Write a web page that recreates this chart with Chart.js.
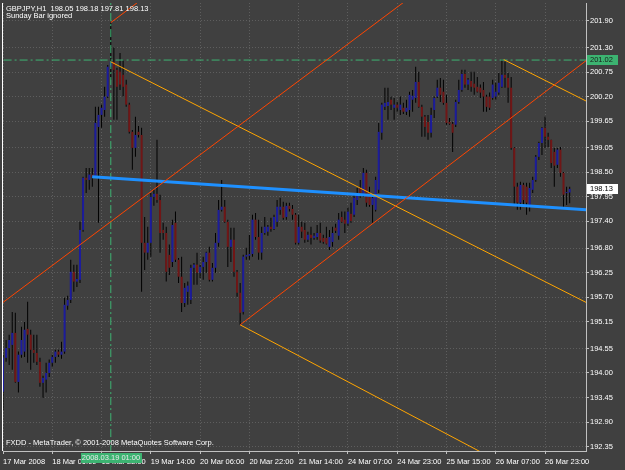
<!DOCTYPE html>
<html>
<head>
<meta charset="utf-8">
<script src="https://cdn.jsdelivr.net/npm/chart.js@4.4.1/dist/chart.umd.min.js"></script>
<style>
  html, body { margin: 0; padding: 0; background: #404040; }
  canvas { display: block; }
</style>
</head>
<body>
<canvas id="chart" width="625" height="470"></canvas>
<script>
// GBPJPY H1, one value per hourly bar (bar 0 = 17 Mar 14:00)
const opens = [
  193.58,194.34,194.56,194.63,194.90,193.80,194.41,194.48,194.99,194.86,
  194.52,194.45,194.25,193.78,193.85,194.00,194.23,194.36,194.48,194.41,
  194.48,195.51,195.64,196.27,196.05,196.09,197.21,198.38,198.33,198.45,
  198.40,199.52,199.79,199.90,200.20,200.87,200.98,200.80,200.76,200.69,
  200.47,200.02,199.41,199.05,199.41,199.34,196.92,196.70,196.92,197.95,
  198.02,197.88,197.21,197.14,196.65,196.49,197.37,196.54,196.16,195.57,
  195.82,195.64,196.36,196.43,196.25,196.38,196.49,196.70,196.09,196.36,
  196.92,197.66,197.73,197.39,196.83,196.99,196.27,195.80,195.37,196.61,
  196.63,196.67,197.44,197.05,196.70,197.14,197.17,197.28,197.23,197.39,
  197.66,197.73,197.50,197.75,197.68,197.55,196.92,197.28,197.21,196.99,
  197.10,197.03,197.05,197.14,197.03,197.03,196.83,196.94,197.26,197.08,
  197.50,197.44,197.35,197.57,197.55,197.88,198.15,198.00,198.49,198.04,
  197.77,197.66,198.11,199.39,199.97,199.99,200.13,199.95,200.02,199.90,
  199.95,199.86,199.90,200.13,200.17,200.53,199.97,199.75,199.63,199.39,
  199.90,200.20,200.40,200.31,200.06,199.63,199.59,199.57,200.08,200.35,
  200.71,200.47,200.55,200.49,200.42,200.40,200.35,200.20,200.20,200.17,
  200.20,200.29,200.42,200.69,200.62,200.40,199.05,198.18,197.82,198.22,
  198.18,197.77,198.11,198.33,198.85,199.16,199.50,199.30,199.23,198.96,
  198.67,199.01,198.49,198.04,198.05
];
const highs = [
  194.41,194.74,194.86,195.37,195.35,194.48,195.04,195.15,195.60,194.97,
  194.86,194.86,194.34,193.94,194.23,194.30,194.41,194.52,194.52,194.70,
  195.69,195.73,196.54,196.43,196.43,197.39,198.40,198.60,198.60,198.60,
  199.97,199.97,200.02,200.42,200.91,201.86,201.30,200.85,201.18,201.03,
  200.58,200.06,199.45,199.75,199.54,199.50,197.50,197.28,198.04,198.11,
  199.23,198.00,197.37,197.28,196.88,197.44,197.62,196.58,196.61,196.02,
  196.05,196.43,196.47,196.70,196.43,196.61,196.72,196.83,196.47,197.14,
  197.88,198.33,197.88,197.44,197.26,197.26,196.31,196.02,196.65,196.81,
  197.10,197.55,197.59,197.44,197.28,197.50,197.32,197.48,197.55,197.88,
  197.93,197.84,197.82,197.82,197.77,197.59,197.55,197.39,197.37,197.17,
  197.28,197.14,197.32,197.37,197.10,197.28,197.21,197.28,197.35,197.59,
  197.62,197.62,197.71,197.82,198.00,198.15,198.33,198.60,198.56,198.18,
  197.97,198.40,199.61,200.06,200.40,200.40,200.20,200.17,200.08,200.20,
  200.06,200.13,200.31,200.35,200.87,200.76,200.02,199.79,199.79,199.95,
  200.20,200.58,200.62,200.58,200.24,199.72,199.63,200.13,200.58,200.80,
  200.80,200.62,200.76,200.76,200.64,200.47,200.53,200.24,200.29,200.58,
  200.51,200.73,201.03,200.98,200.73,200.64,199.07,198.27,198.29,198.27,
  198.27,198.27,198.40,198.89,199.19,199.52,199.75,199.39,199.23,199.05,
  199.05,199.07,198.51,198.18,198.18
];
const lows = [
  193.17,194.25,194.18,194.07,193.78,193.56,194.34,194.36,194.23,194.07,
  194.23,194.18,193.69,193.44,193.56,193.91,194.14,194.23,194.36,194.32,
  194.43,195.42,195.57,195.82,195.93,196.02,197.17,198.04,198.11,198.18,
  198.38,197.37,199.50,199.75,200.17,200.58,199.68,199.68,200.35,200.20,
  199.97,199.37,198.56,198.85,199.28,195.82,196.31,196.54,196.61,197.75,
  197.82,196.70,196.99,196.05,196.20,196.38,196.49,196.02,195.37,195.48,
  195.53,195.55,195.98,195.98,196.13,196.09,196.25,196.05,196.05,196.25,
  196.83,197.62,197.37,196.38,196.49,196.16,195.71,195.08,195.31,196.54,
  196.54,196.61,196.99,196.54,196.54,197.10,197.08,197.17,197.21,197.28,
  197.55,197.44,197.44,197.62,197.44,196.88,196.88,197.03,196.92,196.94,
  196.88,196.99,196.99,196.92,196.90,196.88,196.76,196.83,197.14,196.99,
  197.37,197.14,197.30,197.37,197.50,197.77,197.93,197.95,197.73,197.73,
  197.37,197.62,198.04,199.23,199.90,199.68,199.90,199.68,199.86,199.79,
  199.81,199.79,199.75,199.86,200.06,199.95,199.30,199.30,199.23,199.28,
  199.72,200.17,200.08,200.02,199.57,199.57,198.96,199.52,200.04,200.31,
  200.40,200.35,200.31,200.24,200.29,200.17,199.86,199.86,199.90,200.13,
  200.13,200.24,200.40,200.40,200.06,199.01,197.77,197.66,197.66,197.73,
  197.55,197.62,198.04,198.29,198.78,198.89,199.05,199.07,198.60,198.18,
  198.60,198.40,197.73,197.77,197.81
];
const closes = [
  194.34,194.56,194.74,194.90,193.80,194.41,194.74,194.97,194.86,194.52,
  194.45,194.25,193.78,193.89,194.00,194.23,194.36,194.48,194.41,194.48,
  195.53,195.64,196.27,196.05,196.11,197.21,198.38,198.33,198.45,198.40,
  199.61,199.79,199.95,200.20,200.87,200.98,200.80,200.42,200.47,200.42,
  200.02,199.41,199.05,199.34,199.34,196.92,196.70,196.92,197.95,198.02,
  197.88,197.14,197.14,196.27,196.36,197.32,196.54,196.16,195.57,195.91,
  195.96,196.36,196.43,196.25,196.38,196.49,196.70,196.09,196.36,196.92,
  197.66,197.73,197.39,196.83,196.99,196.27,195.80,195.35,196.61,196.65,
  196.67,197.44,197.05,196.70,197.14,197.28,197.28,197.23,197.50,197.73,
  197.73,197.48,197.75,197.68,197.55,196.92,197.28,197.17,196.99,197.10,
  197.03,197.08,197.14,196.97,196.94,196.90,197.05,197.14,197.19,197.44,
  197.39,197.35,197.62,197.41,197.93,198.04,197.97,198.49,197.82,197.77,
  197.93,198.33,199.41,200.02,200.06,200.08,200.02,200.02,199.95,200.02,
  199.86,199.95,200.24,200.22,200.53,199.97,199.75,199.52,199.39,199.79,
  200.17,200.40,200.24,200.06,199.61,199.59,199.39,200.08,200.35,200.71,
  200.47,200.58,200.42,200.40,200.31,200.29,200.20,199.97,199.95,200.47,
  200.31,200.51,200.69,200.62,200.40,199.05,198.18,197.82,198.22,197.88,
  197.82,198.15,198.33,198.85,199.16,199.50,199.30,199.23,198.71,198.65,
  199.01,198.49,198.00,198.06,198.13
];

// axis ticks
const xTickBars = [0, 16, 32, 48, 64, 80, 96, 112, 128, 144, 160, 176];
const xTickLabels = ['17 Mar 2008', '18 Mar 06:00', '18 Mar 22:00', '19 Mar 14:00',
  '20 Mar 06:00', '20 Mar 22:00', '21 Mar 14:00', '24 Mar 07:00', '24 Mar 23:00',
  '25 Mar 15:00', '26 Mar 07:00', '26 Mar 23:00'];
const yTicks = [201.90, 201.30, 200.75, 200.20, 199.65, 199.05, 198.50, 197.95, 197.40,
  196.80, 196.25, 195.70, 195.15, 194.55, 194.00, 193.45, 192.90, 192.35];

// drawn objects: [bar, price] end points
const redFork = [
  [[35, 201.86], [60, 203.16]],
  [[-2, 195.48], [135, 202.57]],
  [[77, 195.08], [200, 201.57]]
];
const orangeFork = [
  [[35, 200.98], [200, 195.21]],
  [[77, 195.08], [200, 190.59]],
  [[162.6, 201.03], [200, 199.73]]
];
const blueTrend = [[28.95, 198.40], [200, 197.61]];
const hLinePrice = 201.02;
const vLineBar = 35;
const vLineLabel = '2008.03.19 01:00';

const FONT = '"Liberation Sans", Arial, sans-serif';
const FSIZE = 7.5;
const BULL = '#1c1c9c';
const BEAR = '#701616';

const lineSet = (pts, color, width, dash) => ({
  type: 'line',
  data: pts.map(p => ({ x: p[0], y: p[1] })),
  borderColor: color,
  borderWidth: width,
  borderDash: dash || [],
  pointRadius: 0,
  fill: false,
  tension: 0,
  clip: 0,
  order: 0
});

const datasets = [];
redFork.forEach(l => datasets.push(lineSet(l, '#ff4500', 1)));
orangeFork.forEach(l => datasets.push(lineSet(l, '#ffa500', 1)));
datasets.push(lineSet(blueTrend, '#1e90ff', 3));
datasets.push(lineSet([[-5, hLinePrice], [200, hLinePrice]], '#3cb371', 1, [8, 3, 2, 3]));
datasets.push(lineSet([[vLineBar, 180], [vLineBar, 210]], '#3cb371', 1, [8, 3, 2, 3]));

datasets.push({
  type: 'bar',
  data: opens.map((o, i) => ({ x: i, y: [o, closes[i]] })),
  backgroundColor: opens.map((o, i) => closes[i] >= o ? BULL : BEAR),
  barThickness: 2,
  inflateAmount: 0,
  grouped: false,
  order: 1
});
datasets.push({
  type: 'bar',
  data: lows.map((l, i) => ({ x: i, y: [l, highs[i]] })),
  backgroundColor: '#000000',
  barThickness: 1,
  inflateAmount: 0,
  grouped: false,
  order: 2
});

const mtDecor = {
  id: 'mtDecor',
  beforeDraw(chart) {
    const ctx = chart.ctx;
    ctx.save();
    ctx.fillStyle = '#404040';
    ctx.fillRect(0, 0, chart.width, chart.height);
    ctx.restore();
  },
  afterDraw(chart) {
    const ctx = chart.ctx;
    const a = chart.chartArea;
    const ys = chart.scales.y, xs = chart.scales.x;
    ctx.save();
    // frame
    ctx.strokeStyle = '#ffffff';
    ctx.lineWidth = 1;
    ctx.beginPath();
    ctx.moveTo(a.left - 0.5, a.top);
    ctx.lineTo(a.left - 0.5, a.bottom);
    ctx.stroke();

    ctx.font = FSIZE + 'px ' + FONT;
    ctx.textBaseline = 'middle';
    ctx.textAlign = 'left';
    // header
    ctx.fillStyle = '#ffffff';
    ctx.fillText('GBPJPY,H1  ' + opens[opens.length - 1].toFixed(2) + ' ' + highs[highs.length - 1].toFixed(2) + ' ' +
      lows[lows.length - 1].toFixed(2) + ' ' + closes[closes.length - 1].toFixed(2), 6, 9);
    ctx.fillText('Sunday Bar ignored', 6, 16);
    ctx.fillText('FXDD - MetaTrader, \u00a9 2001-2008 MetaQuotes Software Corp.', 6, 443);

    // horizontal line price box
    let py = Math.round(ys.getPixelForValue(hLinePrice));
    ctx.fillStyle = '#3cb371';
    ctx.fillRect(a.right + 1, py - 5, 31, 10);
    ctx.fillStyle = '#1a1a1a';
    ctx.fillText(hLinePrice.toFixed(2), a.right + 4, py);

    // last price box
    const last = closes[closes.length - 1];
    py = Math.round(ys.getPixelForValue(last));
    ctx.fillStyle = '#ffffff';
    ctx.fillRect(a.right + 1, py - 5, 31, 10);
    ctx.fillStyle = '#000000';
    ctx.fillText(last.toFixed(2), a.right + 4, py);

    // vertical line time box
    const px = Math.round(xs.getPixelForValue(vLineBar));
    ctx.fillStyle = '#3cb371';
    ctx.fillRect(px - 30, a.bottom + 2, 61, 10);
    ctx.fillStyle = '#e8e8e8';
    ctx.textAlign = 'center';
    ctx.fillText(vLineLabel, px, a.bottom + 7);
    ctx.restore();
  }
};

new Chart(document.getElementById('chart'), {
  type: 'bar',
  data: { datasets },
  plugins: [mtDecor],
  options: {
    responsive: false,
    animation: false,
    events: [],
    layout: { padding: { left: 3, top: 3, right: 0, bottom: 0 } },
    plugins: { legend: { display: false }, tooltip: { enabled: false } },
    scales: {
      x: {
        type: 'linear',
        min: 0,
        max: 189.3,
        offset: false,
        afterBuildTicks: s => { s.ticks = xTickBars.map(v => ({ value: v })); },
        afterFit: s => { s.height = 19; s.paddingLeft = 0; s.paddingRight = 0; },
        ticks: {
          color: '#ffffff',
          font: { family: FONT, size: FSIZE },
          align: 'start',
          maxRotation: 0,
          autoSkip: false,
          padding: 3,
          callback: v => xTickLabels[xTickBars.indexOf(v)]
        },
        grid: { color: '#5e5e5e', offset: false, drawTicks: true, tickLength: 3, tickColor: '#c0c0c0' },
        border: { display: true, color: '#c0c0c0', dash: [1, 2] }
      },
      y: {
        type: 'linear',
        position: 'right',
        min: 192.25,
        max: 202.30,
        afterBuildTicks: s => { s.ticks = yTicks.map(v => ({ value: v })); },
        afterFit: s => { s.width = 39; s.paddingTop = 0; s.paddingBottom = 0; },
        ticks: {
          color: '#ffffff',
          font: { family: FONT, size: FSIZE },
          crossAlign: 'near',
          padding: 1,
          callback: v => v.toFixed(2)
        },
        grid: { color: '#5e5e5e', drawTicks: true, tickLength: 3, tickColor: '#c0c0c0' },
        border: { display: true, color: '#c0c0c0', dash: [1, 2] }
      }
    }
  }
});
</script>
</body>
</html>
